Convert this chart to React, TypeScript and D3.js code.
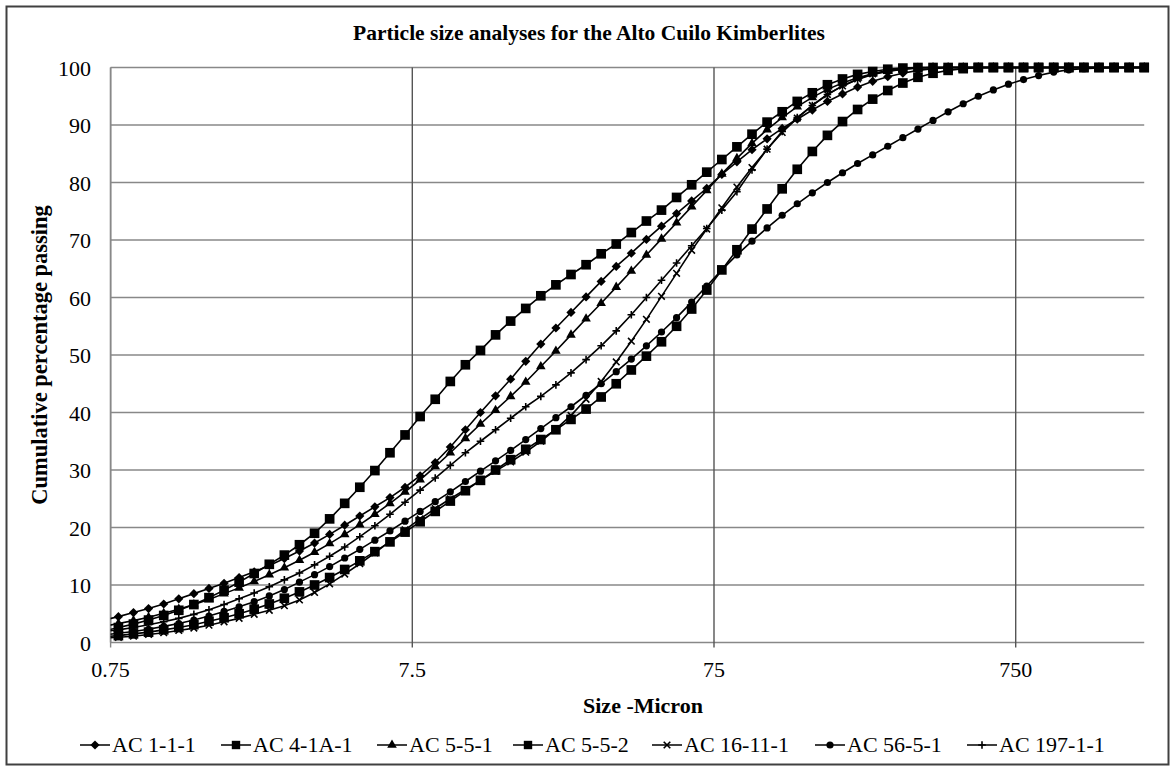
import React from "react";
import * as d3 from "d3";

// Particle sizes (micron) – Mastersizer size classes
const SIZES = [0.710, 0.796, 0.893, 1.002, 1.125, 1.262, 1.416, 1.589, 1.783, 2.000, 2.244, 2.518, 2.825, 3.170, 3.557, 3.991, 4.477, 5.024, 5.637, 6.325, 7.096, 7.962, 8.934, 10.024, 11.247, 12.619, 14.159, 15.887, 17.825, 20.000, 22.440, 25.179, 28.251, 31.698, 35.566, 39.905, 44.774, 50.238, 56.368, 63.246, 70.963, 79.621, 89.337, 100.237, 112.468, 126.191, 141.589, 158.866, 178.250, 200.000, 224.404, 251.785, 282.508, 316.979, 355.656, 399.052, 447.744, 502.377, 563.677, 632.456, 709.627, 796.214, 893.367, 1002.374, 1124.683, 1261.915, 1415.892, 1588.656, 1782.502, 2000.000];

const AC_1_1_1 = [3.9, 4.5, 5.2, 5.9, 6.7, 7.6, 8.5, 9.4, 10.3, 11.3, 12.3, 13.4, 14.6, 15.9, 17.3, 18.8, 20.4, 22.0, 23.6, 25.2, 27.0, 29.0, 31.3, 34.0, 37.0, 40.0, 42.9, 45.8, 48.9, 51.9, 54.7, 57.4, 60.1, 62.8, 65.4, 67.7, 70.1, 72.4, 74.6, 76.8, 79.0, 81.4, 83.6, 85.7, 87.6, 89.4, 91.0, 92.6, 94.1, 95.4, 96.6, 97.6, 98.4, 99.0, 99.5, 99.8, 100, 100, 100, 100, 100, 100, 100, 100, 100, 100, 100, 100, 100, 100];
const AC_4_1A_1 = [2.0, 2.6, 3.2, 3.9, 4.7, 5.6, 6.6, 7.8, 9.1, 10.5, 12.0, 13.6, 15.2, 17.0, 19.0, 21.5, 24.2, 27.0, 29.9, 33.0, 36.1, 39.3, 42.3, 45.4, 48.3, 50.8, 53.5, 55.9, 58.1, 60.3, 62.2, 64.0, 65.7, 67.6, 69.3, 71.3, 73.3, 75.2, 77.4, 79.6, 81.8, 84.0, 86.2, 88.4, 90.5, 92.3, 94.1, 95.6, 97.0, 98.0, 98.8, 99.3, 99.7, 99.9, 100, 100, 100, 100, 100, 100, 100, 100, 100, 100, 100, 100, 100, 100, 100, 100];
const AC_5_5_1 = [2.8, 3.3, 3.8, 4.4, 5.1, 5.8, 6.6, 7.5, 8.5, 9.5, 10.6, 11.8, 13.0, 14.3, 15.7, 17.2, 18.8, 20.5, 22.3, 24.2, 26.2, 28.3, 30.6, 33.0, 35.5, 38.0, 40.4, 42.8, 45.3, 48.0, 50.7, 53.5, 56.3, 59.0, 61.8, 64.6, 67.4, 70.2, 73.0, 75.8, 78.6, 81.5, 84.2, 86.8, 89.2, 91.3, 93.2, 94.8, 96.2, 97.3, 98.2, 98.9, 99.4, 99.7, 99.9, 100, 100, 100, 100, 100, 100, 100, 100, 100, 100, 100, 100, 100, 100, 100];
const AC_5_5_2 = [1.0, 1.2, 1.5, 1.8, 2.2, 2.6, 3.1, 3.7, 4.3, 5.0, 5.8, 6.7, 7.7, 8.8, 10.0, 11.3, 12.7, 14.2, 15.8, 17.5, 19.2, 21.0, 22.8, 24.6, 26.4, 28.2, 30.0, 31.8, 33.6, 35.3, 37.0, 38.8, 40.6, 42.7, 45.0, 47.4, 49.8, 52.3, 55.0, 58.0, 61.3, 64.8, 68.3, 71.9, 75.4, 78.9, 82.3, 85.4, 88.2, 90.6, 92.7, 94.5, 96.0, 97.3, 98.3, 99.0, 99.5, 99.8, 100, 100, 100, 100, 100, 100, 100, 100, 100, 100, 100, 100];
const AC_16_11_1 = [0.8, 0.9, 1.1, 1.4, 1.7, 2.1, 2.5, 3.0, 3.6, 4.2, 4.9, 5.6, 6.4, 7.4, 8.7, 10.2, 11.9, 13.7, 15.6, 17.6, 19.6, 21.5, 23.3, 25.0, 26.6, 28.2, 29.8, 31.4, 33.1, 35.0, 37.1, 39.5, 42.3, 45.4, 48.8, 52.4, 56.2, 60.2, 64.2, 68.2, 71.9, 75.6, 79.2, 82.6, 85.8, 88.7, 91.2, 93.4, 95.3, 96.8, 98.0, 98.9, 99.5, 99.8, 100, 100, 100, 100, 100, 100, 100, 100, 100, 100, 100, 100, 100, 100, 100, 100];
const AC_56_5_1 = [1.3, 1.6, 1.9, 2.3, 2.8, 3.3, 3.9, 4.6, 5.4, 6.2, 7.1, 8.1, 9.2, 10.5, 11.8, 13.2, 14.7, 16.2, 17.8, 19.4, 21.1, 22.8, 24.5, 26.2, 28.0, 29.8, 31.6, 33.4, 35.3, 37.2, 39.1, 41.0, 43.0, 45.0, 47.1, 49.3, 51.6, 54.0, 56.5, 59.2, 62.0, 64.8, 67.4, 69.8, 72.1, 74.3, 76.3, 78.2, 80.0, 81.7, 83.3, 84.8, 86.3, 87.8, 89.3, 90.8, 92.3, 93.7, 95.0, 96.1, 97.1, 97.9, 98.6, 99.2, 99.6, 99.8, 99.9, 100, 100, 100];
const AC_197_1_1 = [1.9, 2.2, 2.6, 3.1, 3.6, 4.2, 4.9, 5.7, 6.6, 7.6, 8.6, 9.7, 10.9, 12.1, 13.5, 15.0, 16.6, 18.4, 20.3, 22.3, 24.4, 26.5, 28.6, 30.8, 33.0, 35.0, 37.0, 39.0, 41.0, 42.8, 44.8, 46.9, 49.2, 51.6, 54.2, 57.0, 60.0, 63.0, 66.0, 69.0, 72.0, 75.2, 78.4, 82.2, 85.8, 88.9, 91.3, 93.4, 95.3, 96.8, 97.9, 98.8, 99.3, 99.7, 99.9, 100, 100, 100, 100, 100, 100, 100, 100, 100, 100, 100, 100, 100, 100, 100];

const SERIES_NAMES = ["AC 1-1-1", "AC 4-1A-1", "AC 5-5-1", "AC 5-5-2", "AC 16-11-1", "AC 56-5-1", "AC 197-1-1"];
const SERIES_VALUES = [AC_1_1_1, AC_4_1A_1, AC_5_5_1, AC_5_5_2, AC_16_11_1, AC_56_5_1, AC_197_1_1];
const SERIES_MARKERS = ["diamond", "square", "triangle", "square", "x", "circle", "plus"];

const X_TICKS = [0.75, 7.5, 75, 750];
const Y_TICKS = [0, 10, 20, 30, 40, 50, 60, 70, 80, 90, 100];

const TITLE = "Particle size analyses for the Alto Cuilo Kimberlites";
const X_TITLE = "Size -Micron";
const Y_TITLE = "Cumulative percentage passing";

const W = 1175;
const H = 772;
const LEFT = 110.6;
const TOP = 67.5;
const BOTTOM = 642.5;
const FONT = "'Liberation Serif', 'Times New Roman', Times, serif";

const LEGEND_X = [80, 221, 377, 513, 652, 815, 967];

function Marker({ kind, cx, cy, big }: { kind: string; cx: number; cy: number; big?: boolean }) {
  const s = big ? 1.15 : 1;
  if (kind === "diamond") {
    const r = 4.6 * s;
    return <path d={`M${cx},${cy - r}L${cx + r},${cy}L${cx},${cy + r}L${cx - r},${cy}Z`} fill="#000" />;
  }
  if (kind === "square") {
    const r = 4.2 * s;
    return <rect x={cx - r} y={cy - r} width={2 * r} height={2 * r} fill="#000" />;
  }
  if (kind === "triangle") {
    const p = d3.symbol().type(d3.symbolTriangle).size(40 * s)();
    return <path d={p || ""} transform={`translate(${cx},${cy})`} fill="#000" />;
  }
  if (kind === "circle") {
    return <circle cx={cx} cy={cy} r={3.6 * s} fill="#000" />;
  }
  if (kind === "x") {
    const r = 3.3;
    return (
      <path d={`M${cx - r},${cy - r}L${cx + r},${cy + r}M${cx - r},${cy + r}L${cx + r},${cy - r}`} stroke="#000" strokeWidth={1.6} />
    );
  }
  const r = 3.8;
  return <path d={`M${cx - r},${cy}L${cx + r},${cy}M${cx},${cy - r}L${cx},${cy + r}`} stroke="#000" strokeWidth={1.6} />;
}

export default function App() {
  const x = d3.scaleLog().domain([0.75, 2000]).range([LEFT, LEFT + 301.7 * Math.log10(2000 / 0.75)]);
  const y = d3.scaleLinear().domain([0, 100]).range([BOTTOM, TOP]);
  const RIGHT = x(2000);

  const line = d3
    .line<number>()
    .x((_, i) => x(SIZES[i]))
    .y((d) => y(d));

  return (
    <svg width={W} height={H} style={{ position: "absolute", left: 0, top: 0, background: "#fff" }} fontFamily={FONT}>
      <defs>
        <clipPath id="plotclip">
          <rect x={LEFT} y={0} width={W - LEFT} height={H} />
        </clipPath>
      </defs>
      <rect x={0} y={0} width={W} height={H} fill="#fff" />
      <rect x={6.5} y={6.5} width={1162} height={758} fill="none" stroke="#404040" strokeWidth={2} />

      <text x={589} y={40} textAnchor="middle" fontWeight="bold" fontSize={21.5} fill="#000">
        {TITLE}
      </text>

      {/* horizontal gridlines */}
      {Y_TICKS.map((t) => (
        <line key={"h" + t} x1={LEFT} x2={RIGHT} y1={y(t)} y2={y(t)} stroke="#888" strokeWidth={1.4} />
      ))}
      {/* vertical gridlines + ticks */}
      {X_TICKS.map((t) => (
        <line key={"v" + t} x1={x(t)} x2={x(t)} y1={TOP} y2={BOTTOM + 5} stroke={t === 0.75 ? "#888" : "#555"} strokeWidth={1.4} />
      ))}
      <line x1={LEFT} x2={LEFT} y1={TOP} y2={BOTTOM} stroke="#888" strokeWidth={1.6} />

      {/* y tick labels */}
      {Y_TICKS.map((t) => (
        <text key={"yl" + t} x={91} y={y(t)} dy="0.38em" textAnchor="end" fontSize={22} fill="#000">
          {t}
        </text>
      ))}
      {/* x tick labels */}
      {X_TICKS.map((t) => (
        <text key={"xl" + t} x={x(t)} y={677} textAnchor="middle" fontSize={22} fill="#000">
          {String(t)}
        </text>
      ))}

      <text x={643} y={713} textAnchor="middle" fontWeight="bold" fontSize={22} fill="#000">
        {X_TITLE}
      </text>
      <text transform={`translate(47,${(TOP + BOTTOM) / 2}) rotate(-90)`} textAnchor="middle" fontWeight="bold" fontSize={22.5} fill="#000">
        {Y_TITLE}
      </text>

      {/* series */}
      <g clipPath="url(#plotclip)">
        {SERIES_VALUES.map((vals, si) => (
          <g key={"s" + si}>
            <path d={line(vals) || ""} fill="none" stroke="#000" strokeWidth={1.6} />
            {vals.map((v, i) => (
              <Marker key={i} kind={SERIES_MARKERS[si]} cx={x(SIZES[i])} cy={y(v)} big={si === 1 || si === 3} />
            ))}
          </g>
        ))}
      </g>

      {/* legend */}
      {SERIES_NAMES.map((name, i) => (
        <g key={"lg" + i}>
          <line x1={LEGEND_X[i]} x2={LEGEND_X[i] + 30} y1={745} y2={745} stroke="#000" strokeWidth={1.5} />
          <Marker kind={SERIES_MARKERS[i]} cx={LEGEND_X[i] + 15} cy={745} />
          <text x={LEGEND_X[i] + 32} y={752} fontSize={22} fill="#000">
            {name}
          </text>
        </g>
      ))}
    </svg>
  );
}
